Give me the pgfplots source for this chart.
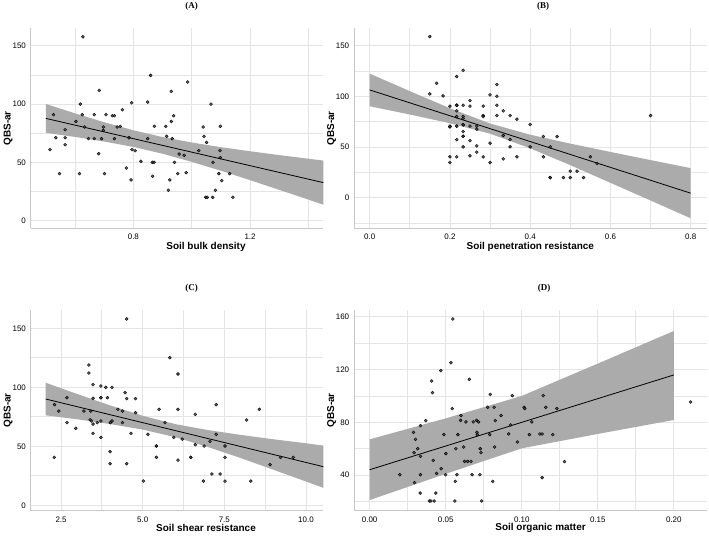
\documentclass[border=0pt]{standalone}
\usepackage{fontspec}
\setmainfont{Liberation Sans}
\newfontfamily\titlefont{Liberation Serif}
\usepackage{pgfplots}
\usepackage{pgfplotstable}
\pgfplotsset{compat=1.18}

\definecolor{gridc}{HTML}{E4E4E4}
\definecolor{axc}{HTML}{C8C8C8}
\definecolor{bandc}{HTML}{ABABAB}
\definecolor{ptc}{HTML}{404040}

\pgfplotsset{
 every axis title shift=0pt,
 panel/.style={
  scale only axis,
  axis x line*=bottom, axis y line*=left,
  axis line style={draw=axc, line width=0.9bp, -},
  grid=both,
  major grid style={draw=gridc, line width=0.8bp},
  minor grid style={draw=gridc, line width=0.8bp},
  major tick length=0pt, minor tick length=0pt,
  tick style={draw=none},
  ticklabel style={font=\fontsize{8}{9}\selectfont},
  /pgf/number format/assume math mode=true,
  xticklabel style={yshift=-2.5bp},
  yticklabel style={xshift=-1.3bp},
  xlabel style={font=\bfseries\fontsize{10}{12}\selectfont, anchor=center},
  ylabel style={font=\bfseries\fontsize{10}{12}\selectfont, at={(axis description cs:0,0.5)}, anchor=center, rotate=0, yshift=22.5bp},
  title style={font=\titlefont\bfseries\fontsize{9}{10}\selectfont, anchor=center},
  ylabel={QBS-ar},
 },
 pts/.style={only marks, mark=*, mark size=1.5bp, mark options={fill=ptc, draw=none, fill opacity=0.8}},
 band/.style={fill=bandc, draw=none},
 fit/.style={black, line width=0.8bp, no marks},
}

\pgfplotstableread{
x y
0.514 60.9
0.526 90.9
0.534 71.1
0.547 40.3
0.566 78
0.566 71.1
0.566 65.1
0.603 85.1
0.615 40.3
0.618 100
0.625 90.9
0.627 157.7
0.633 80.3
0.646 70.3
0.666 70.3
0.666 90.9
0.681 57.4
0.683 111.7
0.691 70.3
0.697 80.3
0.697 77.4
0.701 40.3
0.706 90.9
0.728 90
0.735 90
0.735 70.3
0.744 80.3
0.755 80.9
0.762 95.1
0.776 45.1
0.785 71.1
0.792 34.9
0.794 101.1
0.795 60.9
0.806 60
0.826 50.9
0.849 101.7
0.849 70.3
0.859 124.6
0.866 38
0.872 80.9
0.865 50
0.871 50
0.911 80.9
0.914 72.3
0.920 26
0.925 34.9
0.930 110.9
0.930 85.1
0.933 70.3
0.938 90
0.941 50
0.952 40.3
0.957 57.1
0.974 56
0.981 41.1
0.986 118.9
1.024 60
1.039 80.3
1.042 72.3
1.048 20
1.053 20
1.051 67.1
1.066 100
1.072 20
1.073 50
1.081 26
1.093 40.3
1.097 60
1.098 80.9
1.098 54
1.103 34.3
1.130 40.3
1.141 20
}\dataA

\pgfplotstableread{
x y
0.150 158.8
0.150 102.4
0.167 112.9
0.183 100.4
0.200 90.3
0.200 70.6
0.200 69.9
0.200 70.3
0.200 40.4
0.200 34.8
0.217 119.5
0.217 91.2
0.217 91.2
0.217 85.7
0.217 80.1
0.217 70.6
0.217 70.6
0.217 57.4
0.217 40.4
0.233 125.7
0.233 91.2
0.233 80.1
0.233 78.1
0.233 71.9
0.233 71.9
0.233 65.3
0.233 60.7
0.233 60.7
0.233 50.2
0.250 95.8
0.250 90.3
0.250 70.6
0.250 56.4
0.250 41.4
0.267 70.6
0.267 67.6
0.267 51.2
0.267 45
0.283 90.3
0.283 81.1
0.283 80.1
0.283 40.4
0.300 101.4
0.300 53.8
0.300 34.8
0.317 111.6
0.317 100.1
0.317 91.2
0.317 81.1
0.333 85.7
0.333 61.4
0.333 38.4
0.350 81.1
0.350 57.4
0.350 50.2
0.367 77.5
0.367 40.4
0.400 72.2
0.400 50.2
0.433 60.4
0.433 40.4
0.450 50.2
0.450 20
0.450 20
0.467 60.4
0.483 20
0.500 26.3
0.500 20
0.517 26.3
0.533 20
0.550 40.4
0.567 33.8
0.700 81.1
}\dataB

\pgfplotstableread{
x y
2.29 40.7
2.30 85.3
2.43 79.9
2.68 70.1
2.68 91.2
2.95 65.3
3.20 79.9
3.35 118.9
3.35 112.1
3.39 72.6
3.41 79.9
3.43 71.5
3.48 102.3
3.48 90.7
3.48 68.9
3.48 61
3.61 70.1
3.72 101.1
3.72 91.2
3.72 91.2
3.72 71.5
3.72 57.6
3.87 100
3.92 91.2
4.00 45.5
4.00 35.3
4.01 70.1
4.06 100
4.06 71.5
4.24 81.4
4.38 79.9
4.38 70.1
4.46 95.5
4.51 157.9
4.51 90.4
4.51 35.3
4.64 61
4.78 90.4
4.78 78.5
5.02 20.6
5.16 60.2
5.42 50.3
5.42 50.3
5.42 40.7
5.50 81.4
5.68 70.1
5.83 125.1
5.95 57.6
6.08 81.4
6.08 38.4
6.08 111.3
6.21 56.2
6.47 40.7
6.47 40.7
6.61 77.1
6.61 51.4
6.86 20.6
6.88 50.3
7.06 54.2
7.12 26.6
7.25 60.2
7.25 85.3
7.37 26.6
7.52 50.3
7.52 40.7
7.52 20.6
8.18 72.3
8.31 20.6
8.57 81.4
8.90 34.5
9.22 40.7
9.61 40.7
}\dataC

\pgfplotstableread{
x y
0.0198 40.3
0.0288 72.4
0.0292 57
0.0295 34.3
0.0301 67.1
0.0316 60
0.0334 77.5
0.0334 54.2
0.0334 40.3
0.0332 26.4
0.0369 81.3
0.0393 20.4
0.0402 20.4
0.0407 111.3
0.0413 102.5
0.0418 51.2
0.0424 20.4
0.0435 26.4
0.0440 41.3
0.0468 119.2
0.0470 44.9
0.0488 70.7
0.0499 40.3
0.0501 56.3
0.0534 125.2
0.0543 90.4
0.0547 158.3
0.0560 20.4
0.0563 35.3
0.0567 60
0.0574 40.3
0.0580 70.7
0.0598 81.5
0.0600 85.1
0.0618 61.3
0.0624 50.4
0.0633 80.3
0.0644 50.4
0.0655 112.6
0.0666 50.4
0.0673 40.3
0.0681 80.3
0.0703 81.5
0.0705 72.4
0.0708 70.7
0.0716 80.3
0.0725 40.3
0.0727 60
0.0732 57
0.0736 20.4
0.0776 91.4
0.0789 70.7
0.0793 101.2
0.0809 35.3
0.0818 91.4
0.0822 61.3
0.0826 81.3
0.0864 85.1
0.0914 71.2
0.0927 78
0.0938 100.2
0.0971 65.1
0.1015 91.4
0.1020 90.4
0.1050 70.7
0.1066 80.3
0.1119 71.2
0.1134 71.2
0.1134 38.1
0.1141 100.2
0.1158 91.4
0.1204 70.7
0.1231 90.4
0.1281 50.2
0.2110 95.4
}\dataD

\begin{document}
\begin{tikzpicture}
\useasboundingbox (0,0) rectangle (709bp,536bp);

% ---------------- (A)
\begin{axis}[panel,
  at={(30.7bp,307.7bp)}, anchor=south west,
  width=292.6bp, height=200bp,
  xmin=0.448, xmax=1.451, ymin=-6.6, ymax=165,
  xtick={0.8,1.2}, minor xtick={0.6,1.0,1.4},
  ytick={0,50,100,150}, minor ytick={25,75,125},
  xticklabel style={/pgf/number format/.cd, fixed, fixed zerofill, precision=1},
  xlabel={Soil bulk density},
  xlabel style={at={(axis description cs:0.599,0)}, yshift=-18.4bp},
  title={(A)},
  title style={at={(axis description cs:0.55,1)}, yshift=22bp},
]
\addplot[band] coordinates {(0.5,100.1) (0.6,92.0) (0.7,84.4) (0.8,77.5) (0.9,71.7) (1.0,67.0) (1.1,63.0) (1.2,59.5) (1.3,56.2) (1.451,51.5)
 (1.451,13.7) (1.3,26.4) (1.2,34.7) (1.1,42.8) (1.0,50.4) (0.9,57.4) (0.8,63.2) (0.7,67.8) (0.6,71.8) (0.5,75.3)};
\addplot[pts] table {\dataA};
\addplot[fit] coordinates {(0.5,87.7) (1.451,32.6)};
\end{axis}

% ---------------- (B)
\begin{axis}[panel,
  at={(354bp,307.7bp)}, anchor=south west,
  width=352.7bp, height=200bp,
  xmin=-0.039, xmax=0.84, ymin=-30, ymax=167,
  xtick={0,0.2,0.4,0.6,0.8}, minor xtick={0.1,0.3,0.5,0.7},
  ytick={0,50,100,150}, minor ytick={-25,25,75,125},
  xticklabel style={/pgf/number format/.cd, fixed, fixed zerofill, precision=1},
  xlabel={Soil penetration resistance},
  xlabel style={at={(axis description cs:0.5,0)}, yshift=-18.4bp},
  title={(B)},
  title style={at={(axis description cs:0.536,1)}, yshift=22bp},
]
\addplot[band] coordinates {(0,122.4) (0.1,105.1) (0.2,88.3) (0.3,73.2) (0.4,62.2) (0.5,53.4) (0.6,45.2) (0.7,37.2) (0.8,29.3)
 (0.8,-20.1) (0.7,-2.6) (0.6,14.8) (0.5,32.2) (0.4,48.8) (0.3,63.2) (0.2,73.5) (0.1,82.1) (0,90.2)};
\addplot[pts] table {\dataB};
\addplot[fit] coordinates {(0,106.3) (0.8,4.6)};
\end{axis}

% ---------------- (C)
\begin{axis}[panel,
  at={(30.7bp,25.3bp)}, anchor=south west,
  width=292.6bp, height=200.7bp,
  xmin=1.57, xmax=10.53, ymin=-4.5, ymax=165.5,
  xtick={2.5,5,7.5,10}, minor xtick={3.75,6.25,8.75},
  ytick={0,50,100,150}, minor ytick={25,75,125},
  xticklabel style={/pgf/number format/.cd, fixed, fixed zerofill, precision=1},
  xlabel={Soil shear resistance},
  xlabel style={at={(axis description cs:0.599,0)}, yshift=-17.6bp},
  title={(C)},
  title style={at={(axis description cs:0.55,1)}, yshift=21.7bp},
]
\addplot[band] coordinates {(2.03,103.9) (3,94.3) (4,84.7) (5,75.9) (6,68.8) (7,63.8) (8,59.7) (9,56.0) (10,52.6) (10.53,50.7)
 (10.53,14.9) (10,20.2) (9,30.2) (8,40.1) (7,49.4) (6,57.8) (5,64.2) (4,68.9) (3,72.9) (2.03,76.3)};
\addplot[pts] table {\dataC};
\addplot[fit] coordinates {(2.03,90.1) (10.53,32.8)};
\end{axis}

% ---------------- (D)
\begin{axis}[panel,
  at={(354bp,25.3bp)}, anchor=south west,
  width=352.7bp, height=200.7bp,
  xmin=-0.0103, xmax=0.2216, ymin=13.05, ymax=165.1,
  xtick={0,0.05,0.1,0.15,0.2}, minor xtick={0.025,0.075,0.125,0.175},
  ytick={40,80,120,160}, minor ytick={20,60,100,140},
  xticklabel style={/pgf/number format/.cd, fixed, fixed zerofill, precision=2},
  xlabel={Soil organic matter},
  xlabel style={at={(axis description cs:0.529,0)}, yshift=-17.6bp},
  title={(D)},
  title style={at={(axis description cs:0.539,1)}, yshift=21.7bp},
]
\addplot[band] coordinates {(0,67.1) (0.05,83.0) (0.1,100.0) (0.15,124.5) (0.2,149.2)
 (0.2,81.8) (0.15,71.2) (0.1,60.3) (0.05,41.0) (0,21.1)};
\addplot[pts] table {\dataD};
\addplot[fit] coordinates {(0,44.1) (0.2,115.9)};
\end{axis}
\end{tikzpicture}
\end{document}
